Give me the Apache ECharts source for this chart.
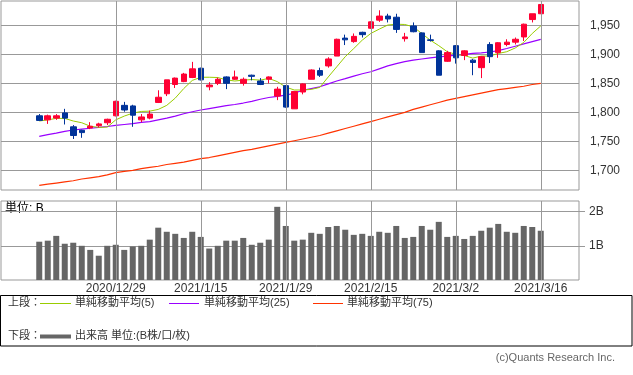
<!DOCTYPE html>
<html><head><meta charset="utf-8">
<script src="https://cdn.jsdelivr.net/npm/echarts@6/dist/echarts.min.js"></script>
<style>html,body{margin:0;padding:0;background:#fff}#c{width:633px;height:375px}</style>
</head><body><div id="c"></div>
<script>
const dates = ['2020/12/16','2020/12/17','2020/12/18','2020/12/21','2020/12/22','2020/12/23','2020/12/24','2020/12/25','2020/12/28','2020/12/29',
'2020/12/30','2021/1/4','2021/1/5','2021/1/6','2021/1/7','2021/1/8','2021/1/12','2021/1/13','2021/1/14','2021/1/15',
'2021/1/18','2021/1/19','2021/1/20','2021/1/21','2021/1/22','2021/1/25','2021/1/26','2021/1/27','2021/1/28','2021/1/29',
'2021/2/1','2021/2/2','2021/2/3','2021/2/4','2021/2/5','2021/2/8','2021/2/9','2021/2/10','2021/2/12','2021/2/15',
'2021/2/16','2021/2/17','2021/2/18','2021/2/19','2021/2/22','2021/2/24','2021/2/25','2021/2/26','2021/3/1','2021/3/2',
'2021/3/3','2021/3/4','2021/3/5','2021/3/8','2021/3/9','2021/3/10','2021/3/11','2021/3/12','2021/3/15','2021/3/16'];
const labelDates = ['2020/12/29','2021/1/15','2021/1/29','2021/2/15','2021/3/2','2021/3/16'];
// [open, close, low, high]
const ohlc = [
[1794,1786,1785,1797],[1787,1794,1780,1796],[1790,1794,1787,1797],[1799,1790,1779,1806],[1775,1760,1754,1778],
[1769,1765,1756,1770],[1773,1776,1771,1783],[1777,1780,1774,1782],[1782,1788,1778,1789],[1794,1819,1793,1820],
[1812,1804,1801,1818],[1811,1795,1775,1813],[1787,1792,1783,1797],[1790,1797,1788,1803],[1817,1826,1816,1838],
[1832,1856,1828,1856],[1848,1859,1842,1860],[1853,1866,1852,1868],[1860,1875,1859,1887],[1876,1856,1855,1877],
[1844,1847,1838,1852],[1850,1857,1847,1860],[1861,1850,1840,1862],[1857,1861,1856,1872],[1850,1857,1846,1860],
[1864,1862,1855,1865],[1854,1848,1847,1859],[1857,1861,1850,1862],[1828,1840,1821,1844],[1846,1809,1808,1847],
[1806,1836,1806,1836],[1835,1849,1831,1850],[1857,1873,1857,1874],[1872,1864,1861,1877],[1880,1892,1877,1895],
[1897,1926,1897,1927],[1928,1925,1916,1934],[1922,1931,1920,1936],[1938,1934,1929,1939],[1945,1956,1944,1957],
[1959,1966,1956,1976],[1966,1961,1955,1970],[1964,1943,1937,1970],[1927,1930,1922,1937],[1949,1939,1938,1955],
[1937,1903,1903,1938],[1925,1924,1922,1934],[1906,1864,1864,1907],[1888,1903,1887,1906],[1915,1894,1884,1916],
[1898,1906,1890,1907],[1890,1886,1864,1892],[1877,1896,1859,1897],[1917,1896,1885,1921],[1903,1920,1894,1921],
[1917,1921,1914,1926],[1921,1926,1917,1929],[1930,1952,1923,1953],[1960,1970,1955,1970],[1970,1986,1970,1986]];
const ma5 = [1785,1787,1789.5,1789.5,1785,1782,1776,1774,1774.5,1787,
1793.5,1798.5,1801.5,1802,1805,1812,1824.5,1841,1855,1860.5,
1860.5,1860,1856,1854,1855.5,1856.5,1855.5,1858.5,1853,1843.5,
1838.5,1838.5,1839.5,1843,1861,1878.5,1896,1910,1924.5,1936,
1943.5,1950.5,1952,1951.5,1947.5,1936,1924.5,1915,1904.5,1900,
1898,1893.5,1897,1897,1901.5,1904.5,1911,1920.5,1936,1949];
const ma25 = [1758.6,1761.5,1764,1767,1769.5,1771,1772.5,1774,1775.5,1777.5,
1779,1780.5,1782.5,1784,1787,1790,1793.5,1797.5,1801,1804,
1806.5,1809,1811.5,1813.5,1816,1819,1822.5,1825.5,1827.5,1829.5,
1833,1838,1841,1844,1849,1854,1858,1862.5,1866.5,1870,
1875,1880,1884,1887.5,1890,1892,1894,1895.5,1897,1898.5,
1900,1901.5,1902.5,1904,1906.5,1910,1914,1918,1922,1925.8];
const ma75 = [1674,1676,1678,1680,1682,1685,1687,1689,1692,1696,
1698,1700,1703,1705,1707,1710,1712,1714,1717,1720,
1722,1725,1728,1731,1734,1736,1739,1742,1745,1748,
1751,1754,1757,1760,1764,1768,1772,1776,1780,1784,
1788,1792,1796,1800,1805,1809,1813,1817,1821,1824,
1827,1830,1833,1836,1839,1841,1843,1845,1848,1850];
const volume = [1.12,1.15,1.29,1.06,1.09,1.00,0.88,0.71,1.00,1.03,
0.88,0.98,1.00,1.18,1.53,1.41,1.35,1.23,1.41,1.26,
0.92,1.00,1.15,1.15,1.23,1.03,1.09,1.18,2.14,1.58,
1.15,1.18,1.38,1.35,1.55,1.58,1.47,1.32,1.35,1.29,
1.41,1.38,1.58,1.23,1.26,1.58,1.47,1.70,1.26,1.29,
1.20,1.29,1.44,1.53,1.64,1.41,1.38,1.58,1.55,1.44];
const priceTicks = [1700,1750,1800,1850,1900,1950];
const volTicks = [1,2];

const padL = ['_a','_b','_c','_d'], padR = ['_w','_x','_y','_z'];
const cats = padL.concat(dates, padR);
const pairs = arr => dates.map((d, i) => [d, arr[i]]);
const candleData = dates.map((d, i) => [d].concat(ohlc[i]));
const isLabel = (i, v) => labelDates.indexOf(v) >= 0;
const FONT = "'Liberation Sans','Noto Sans CJK JP',sans-serif";
const GRID = '#999';
const UP = '#ff0033', DOWN = '#003399';
const C5 = '#99cc00', C25 = '#9900ff', C75 = '#ff3300';

const chart = echarts.init(document.getElementById('c'), null, {renderer:'canvas'});
const xBase = (gi, showLabel) => ({
  type:'category', gridIndex:gi, data:cats, boundaryGap:true,
  axisLine:{show:false}, axisTick:{show:false},
  axisLabel:{show:showLabel, interval:isLabel, color:'#333', fontSize:12, fontFamily:FONT, margin:3},
  splitLine:{show:false}
});
const vMark = {silent:true, symbol:['none','none'], label:{show:false}, animation:false,
  lineStyle:{color:GRID, width:1, type:'solid'}, data:labelDates.map(d => ({xAxis:d}))};
chart.setOption({
  animation:false,
  textStyle:{fontFamily:FONT},
  grid:[
    {left:1, top:1, width:578, height:189, show:true, borderColor:GRID, borderWidth:1, backgroundColor:'transparent'},
    {left:1, top:201, width:578, height:79, show:true, borderColor:GRID, borderWidth:1, backgroundColor:'transparent'}
  ],
  xAxis:[xBase(0,false), xBase(1,true)],
  yAxis:[
    {type:'value', gridIndex:0, position:'right', min:1666, max:1992,
     axisLine:{show:false}, axisTick:{show:false, customValues:priceTicks},
     axisLabel:{customValues:priceTicks, color:'#333', fontSize:12, fontFamily:FONT, margin:11,
       formatter:v=>String(v).replace(/\B(?=(\d{3})+(?!\d))/g, ',')},
     splitLine:{show:true, lineStyle:{color:GRID, width:1}}},
    {type:'value', gridIndex:1, position:'right', min:0, max:2.31,
     axisLine:{show:false}, axisTick:{show:true, length:6, inside:false, customValues:volTicks, lineStyle:{color:GRID}},
     axisLabel:{customValues:volTicks, color:'#333', fontSize:12, fontFamily:FONT, margin:10, formatter:v=>v+'B'},
     splitLine:{show:true, lineStyle:{color:GRID, width:1}}}
  ],
  series:[
    {type:'line', name:'grid0', xAxisIndex:0, yAxisIndex:0, data:[], z:1, markLine:vMark},
    {type:'line', name:'grid1', xAxisIndex:1, yAxisIndex:1, data:[], z:1, markLine:vMark},
    {type:'line', name:'MA75', xAxisIndex:0, yAxisIndex:0, data:pairs(ma75), showSymbol:false, symbol:'none',
     lineStyle:{color:C75, width:1.2}, z:3},
    {type:'line', name:'MA25', xAxisIndex:0, yAxisIndex:0, data:pairs(ma25), showSymbol:false, symbol:'none',
     lineStyle:{color:C25, width:1.2}, z:3},
    {type:'line', name:'MA5', xAxisIndex:0, yAxisIndex:0, data:pairs(ma5), showSymbol:false, symbol:'none',
     lineStyle:{color:C5, width:1}, z:3},
    {type:'candlestick', xAxisIndex:0, yAxisIndex:0, data:candleData, encode:{x:0, y:[1,2,3,4]},
     barWidth:6, z:4,
     itemStyle:{color:UP, color0:DOWN, borderColor:UP, borderColor0:DOWN, borderWidth:1}},
    {type:'bar', xAxisIndex:1, yAxisIndex:1, data:pairs(volume), barWidth:6, z:4,
     itemStyle:{color:'#666666'}}
  ],
  graphic:[
    {type:'text', left:5, top:203, style:{text:'単位: B', font:'12px '+FONT, fill:'#000'}},
    {type:'rect', shape:{x:0.5, y:295.5, width:631.5, height:50.5}, style:{fill:'none', stroke:'#000', lineWidth:1}},
    {type:'text', x:8, y:303, style:{text:'上段：', font:'11px '+FONT, fill:'#333', verticalAlign:'middle'}},
    {type:'rect', shape:{x:40, y:303, width:31, height:1}, style:{fill:C5}},
    {type:'text', x:75, y:303, style:{text:'単純移動平均(5)', font:'11px '+FONT, fill:'#333', verticalAlign:'middle'}},
    {type:'rect', shape:{x:169, y:303, width:30, height:1}, style:{fill:C25}},
    {type:'text', x:204, y:303, style:{text:'単純移動平均(25)', font:'11px '+FONT, fill:'#333', verticalAlign:'middle'}},
    {type:'rect', shape:{x:313, y:303, width:30, height:1}, style:{fill:C75}},
    {type:'text', x:347, y:303, style:{text:'単純移動平均(75)', font:'11px '+FONT, fill:'#333', verticalAlign:'middle'}},
    {type:'text', x:8, y:336, style:{text:'下段：', font:'11px '+FONT, fill:'#333', verticalAlign:'middle'}},
    {type:'rect', shape:{x:40, y:334.5, width:31, height:4}, style:{fill:'#666666'}},
    {type:'text', x:75, y:336, style:{text:'出来高 単位:(B株/口/枚)', font:'11px '+FONT, fill:'#333', verticalAlign:'middle'}},
    {type:'text', x:615, y:358, style:{text:'(c)Quants Research Inc.', font:'11px '+FONT, fill:'#666', align:'right', verticalAlign:'middle'}}
  ]
});
</script></body></html>
